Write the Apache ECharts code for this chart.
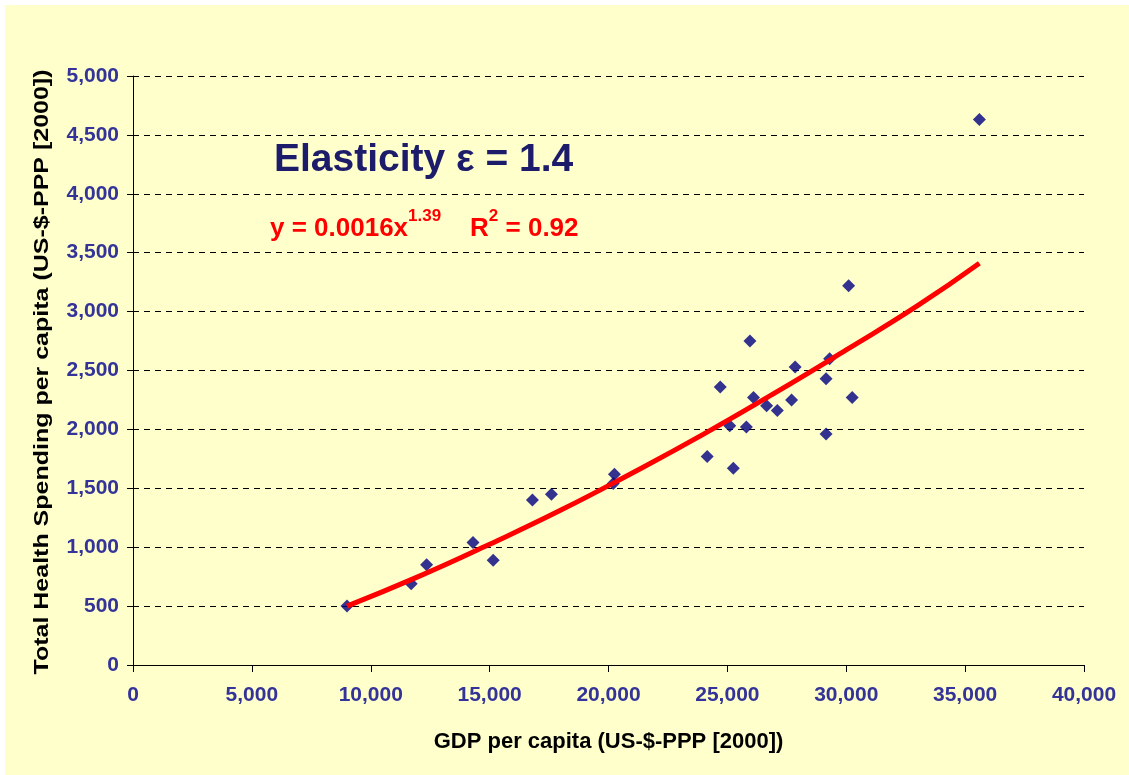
<!DOCTYPE html>
<html>
<head>
<meta charset="utf-8">
<script src="https://cdn.jsdelivr.net/npm/echarts@6/dist/echarts.min.js"></script>
<style>
html,body{margin:0;padding:0;background:#ffffff;}
#chart{width:1129px;height:775px;}
</style>
</head>
<body>
<div id="chart"></div>
<script>
// GDP per capita (US-$-PPP 2000)
var gdp = [9000, 11700, 12350, 14300, 15150, 16800, 17600, 20250, 20200, 24150, 24700, 25950, 27850, 29300, 29150, 26100, 26650, 27100, 27700, 30250, 25100, 25800, 29150, 25250, 30100, 35600];
// Total health spending per capita
var health = [500, 690, 850, 1040, 890, 1400, 1450, 1620, 1540, 1770, 2360, 2750, 2530, 2600, 2430, 2270, 2200, 2160, 2250, 2270, 2030, 2020, 1960, 1670, 3220, 4630];
// Trend line points
var trendX = [9000, 12000, 15000, 18000, 21000, 24000, 27000, 30000, 33000, 35600];
var trendY = [500, 750, 1025, 1315, 1630, 1960, 2310, 2675, 3050, 3410];
var xTicks = {min: 0, max: 40000, interval: 5000};
var yTicks = {min: 0, max: 5000, interval: 500};
var yName = 'Total Health Spending per capita (US-$-PPP [2000])';
var xName = 'GDP per capita (US-$-PPP [2000])';

var font = "'Liberation Sans', Arial, sans-serif";
var scatterData = gdp.map(function (x, i) { return [x, health[i]]; });
var trendData = trendX.map(function (x, i) { return [x, trendY[i]]; });

var chart = echarts.init(document.getElementById('chart'));
chart.setOption({
  backgroundColor: '#ffffff',
  animation: false,
  graphic: [
    {type: 'rect', z: -10, shape: {x: 5, y: 5, width: 1124, height: 770}, style: {fill: '#FFFFCC'}, silent: true},
    {type: 'text', z: 10, left: 274, top: 141, style: {text: 'Elasticity ε = 1.4', font: 'bold 39px ' + font, fill: '#1C1C6B'}},
    {type: 'text', z: 10, left: 270, top: 208, style: {
      text: '{n|y = 0.0016x}{s|1.39}{n|    R}{s|2}{n| = 0.92}',
      fill: '#FF0000',
      rich: {
        n: {fontSize: 26, fontWeight: 'bold', fontFamily: font, color: '#FF0000', lineHeight: 34, verticalAlign: 'bottom'},
        s: {fontSize: 17, fontWeight: 'bold', fontFamily: font, color: '#FF0000', lineHeight: 34, verticalAlign: 'top'}
      }
    }},
    {type: 'text', z: 10, x: 42, y: 372, rotation: Math.PI / 2, scaleX: 1.19, scaleY: 1,
      style: {text: yName, font: 'bold 21px ' + font, fill: '#000000', textAlign: 'center', textVerticalAlign: 'middle'}}
  ],
  grid: {left: 133, right: 45, top: 76, bottom: 110, containLabel: false},
  xAxis: {
    type: 'value', min: xTicks.min, max: xTicks.max, interval: xTicks.interval,
    name: xName, nameLocation: 'middle', nameGap: 66,
    nameTextStyle: {fontFamily: font, fontWeight: 'bold', fontSize: 22, color: '#000000'},
    axisLine: {show: true, lineStyle: {color: '#000000', width: 1}},
    axisTick: {show: true, inside: false, length: 7, lineStyle: {color: '#000000'}},
    axisLabel: {fontFamily: font, fontWeight: 'bold', fontSize: 21, color: '#333399', margin: 20,
      formatter: function (v) { return v.toLocaleString('en-US'); }},
    splitLine: {show: false}
  },
  yAxis: {
    type: 'value', min: yTicks.min, max: yTicks.max, interval: yTicks.interval,
    axisLine: {show: true, lineStyle: {color: '#000000', width: 1}},
    axisTick: {show: true, inside: false, length: 6, lineStyle: {color: '#000000'}},
    axisLabel: {fontFamily: font, fontWeight: 'bold', fontSize: 21, color: '#333399', margin: 14,
      formatter: function (v) { return v.toLocaleString('en-US'); }},
    splitLine: {show: true, lineStyle: {color: '#000000', type: [6, 5], width: 1}}
  },
  series: [
    {type: 'scatter', data: scatterData, symbol: 'diamond', symbolSize: 13,
      itemStyle: {color: '#000080'}, z: 2},
    {type: 'line', data: trendData, smooth: true, showSymbol: false, symbol: 'none',
      lineStyle: {color: '#FF0000', width: 5}, z: 3}
  ]
});
</script>
</body>
</html>
